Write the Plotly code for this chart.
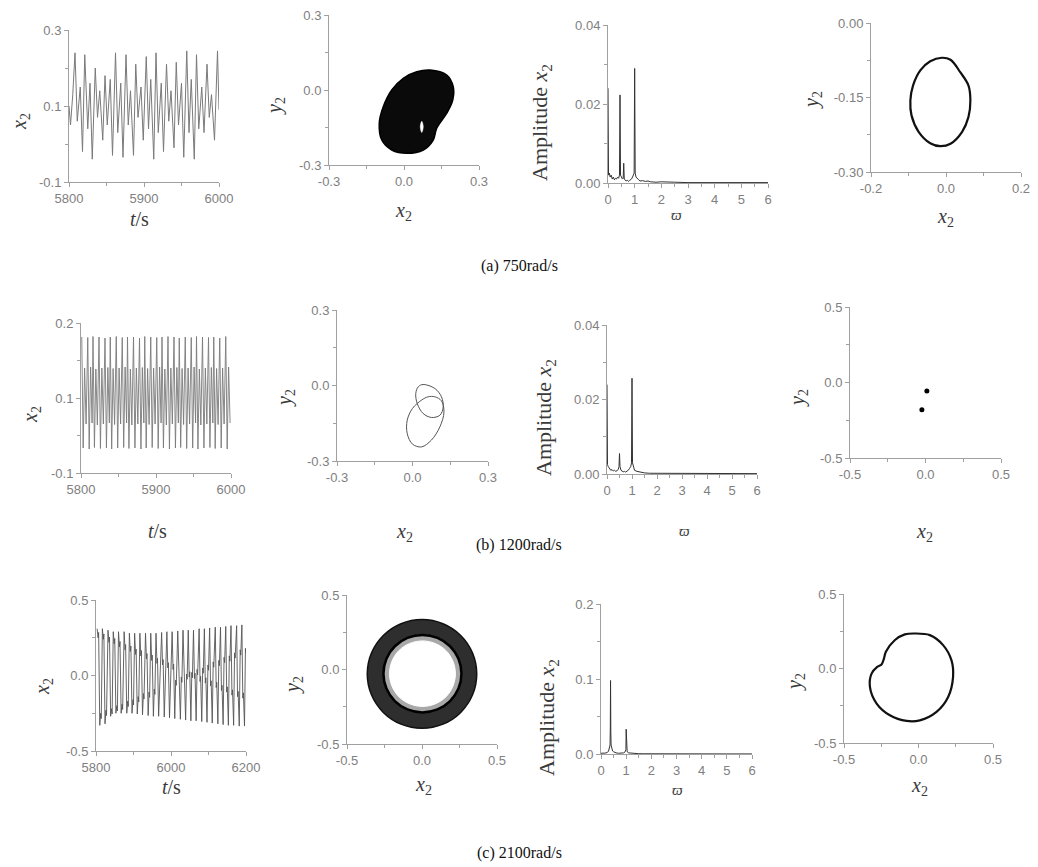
import plotly.graph_objects as go

W, H = 1038, 867
OX, OY = 0, 0  # page body margin is removed below, so pixel positions map directly

# ---------------- (a) 750 rad/s ----------------
a_t = [5800, 5802, 5805,
       5808, 5811, 5815, 5818,
       5821, 5825, 5828, 5831,
       5835, 5838, 5841, 5845,
       5848, 5851, 5855, 5858,
       5862, 5865, 5869, 5872,
       5876, 5879, 5882, 5886,
       5889, 5892, 5896, 5899,
       5903, 5906, 5909, 5913,
       5916, 5919, 5923, 5926,
       5930, 5933, 5936, 5940,
       5943, 5946, 5950, 5953,
       5957, 5960, 5963, 5967,
       5970, 5973, 5977, 5980,
       5984, 5987, 5990, 5994,
       5998, 6000]
a_x = [0.10, 0.05, 0.13,
       0.24, 0.06, 0.15, -0.02,
       0.235, 0.04, 0.16, -0.04,
       0.20, 0.07, 0.14, 0.01,
       0.18, 0.05, 0.17, -0.03,
       0.24, 0.03, 0.16, -0.035,
       0.235, 0.05, 0.14, -0.03,
       0.21, 0.07, 0.15, 0.01,
       0.23, 0.04, 0.17, -0.04,
       0.24, 0.03, 0.16, -0.02,
       0.21, 0.06, 0.14, -0.01,
       0.215, 0.05, 0.16, -0.035,
       0.245, 0.03, 0.17, -0.04,
       0.235, 0.04, 0.15, 0.03,
       0.21, 0.07, 0.13, 0.01,
       0.245, 0.09]

a_orbit_x = [0.104, 0.171, 0.197, 0.195, 0.171, 0.131, 0.117, 0.077, 0.011, -0.049,
             -0.089, -0.099, -0.083, -0.049, -0.003, 0.051, 0.104]
a_orbit_y = [0.080, 0.060, 0.013, -0.040, -0.093, -0.153, -0.200, -0.240, -0.253, -0.240,
             -0.200, -0.133, -0.067, 0.000, 0.047, 0.073, 0.080]
a_hole_x = [0.071, 0.077, 0.071, 0.065, 0.071]
a_hole_y = [-0.125, -0.147, -0.170, -0.147, -0.125]

a_w = [0.00, 0.005, 0.02, 0.05, 0.08, 0.12, 0.16, 0.20, 0.24, 0.28,
       0.32, 0.36, 0.40, 0.43, 0.45, 0.47, 0.50, 0.54, 0.57, 0.59,
       0.61, 0.64, 0.68, 0.72, 0.76, 0.80, 0.84, 0.88, 0.92, 0.96,
       0.98, 1.00, 1.02, 1.05, 1.10, 1.15, 1.20, 1.30, 1.40, 1.50,
       1.60, 1.80, 2.00, 2.20, 2.50, 3.00, 3.50, 4.00, 5.00, 6.00]
a_amp = [0.024, 0.004, 0.002, 0.0025, 0.0015, 0.002, 0.001, 0.0015, 0.0008, 0.0012,
         0.001, 0.0015, 0.0012, 0.002, 0.0223, 0.002, 0.0015, 0.001, 0.0012, 0.005,
         0.001, 0.0008, 0.0005, 0.0007, 0.0004, 0.0006, 0.0008, 0.0010, 0.0015, 0.0020,
         0.0025, 0.029, 0.0025, 0.0015, 0.0010, 0.0008, 0.0005, 0.0006, 0.0004, 0.0005,
         0.0003, 0.0002, 0.0003, 0.0002, 0.0002, 0.0001, 0.0001, 0.0001, 0.0001, 0.0001]

a_pc_x = [-0.011, 0.012, 0.038, 0.060, 0.065, 0.060, 0.043, 0.012, -0.015, -0.042,
          -0.073, -0.092, -0.095, -0.088, -0.068, -0.042, -0.011]
a_pc_y = [-0.070, -0.074, -0.099, -0.126, -0.156, -0.189, -0.219, -0.243, -0.248, -0.242,
          -0.219, -0.186, -0.156, -0.126, -0.095, -0.077, -0.070]

# ---------------- (b) 1200 rad/s ----------------
b_peak_t = [5801, 5809, 5816, 5824, 5832, 5839, 5847, 5855, 5862, 5870, 5878, 5885, 5893,
            5901, 5908, 5916, 5924, 5931, 5939, 5947, 5954, 5962, 5970, 5977, 5985, 5993]
b_peak = [0.172, 0.171, 0.173, 0.172, 0.170, 0.172, 0.173, 0.171, 0.172, 0.172, 0.170, 0.173, 0.172,
          0.171, 0.172, 0.173, 0.172, 0.170, 0.172, 0.171, 0.173, 0.172, 0.171, 0.172, 0.170, 0.173]
b_deep = [-0.050, -0.052, -0.049, -0.051, -0.050, -0.052, -0.050, -0.049, -0.051, -0.050, -0.052, -0.050, -0.049,
          -0.051, -0.050, -0.052, -0.050, -0.049, -0.051, -0.050, -0.052, -0.050, -0.049, -0.051, -0.050, -0.052]
b_mid = [0.110, 0.112, 0.108, 0.110, 0.111, 0.109, 0.110, 0.112, 0.108, 0.110, 0.111, 0.109, 0.110,
         0.112, 0.108, 0.110, 0.111, 0.109, 0.110, 0.112, 0.108, 0.110, 0.111, 0.109, 0.110, 0.112]
b_shallow = [-0.002, 0.000, -0.004, -0.002, 0.000, -0.003, -0.002, 0.000, -0.004, -0.002, 0.000, -0.003, -0.002,
             0.000, -0.004, -0.002, 0.000, -0.003, -0.002, 0.000, -0.004, -0.002, 0.000, -0.003, -0.002, 0.000]

b_loop1_x = [0.042, 0.089, 0.115, 0.122, 0.109, 0.075, 0.042, 0.019, 0.013, 0.023, 0.042]
b_loop1_y = [0.004, -0.012, -0.045, -0.085, -0.118, -0.127, -0.111, -0.072, -0.032, -0.005, 0.004]
b_loop2_x = [0.089, 0.115, 0.125, 0.109, 0.075, 0.036, 0.000, -0.021, -0.021, 0.000, 0.036, 0.062, 0.089]
b_loop2_y = [-0.045, -0.061, -0.105, -0.164, -0.217, -0.244, -0.233, -0.191, -0.138, -0.091, -0.058, -0.045, -0.045]

b_w = [0.00, 0.005, 0.02, 0.05, 0.10, 0.15, 0.20, 0.25, 0.30, 0.35,
       0.40, 0.45, 0.48, 0.50, 0.52, 0.56, 0.60, 0.65, 0.70, 0.75,
       0.80, 0.85, 0.90, 0.95, 0.98, 1.00, 1.02, 1.05, 1.10, 1.20,
       1.30, 1.40, 1.50, 1.70, 2.00, 2.50, 3.00, 4.00, 5.00, 6.00]
b_amp = [0.024, 0.003, 0.0025, 0.002, 0.0015, 0.001, 0.0012, 0.0008, 0.001, 0.0007,
         0.0009, 0.0012, 0.002, 0.0055, 0.002, 0.001, 0.0008, 0.0006, 0.0007, 0.0005,
         0.0008, 0.001, 0.0015, 0.002, 0.003, 0.0257, 0.003, 0.0018, 0.001, 0.0007,
         0.0005, 0.0004, 0.0003, 0.0002, 0.0002, 0.0001, 0.0001, 0.0001, 0.0001, 0.0001]

b_pc_x = [0.009, -0.024]
b_pc_y = [-0.056, -0.180]

# ---------------- (c) 2100 rad/s ----------------
c_peak_t = [5803, 5817, 5832, 5846, 5860, 5875, 5889, 5903, 5917, 5932, 5946, 5960, 5975, 5989,
            6003, 6018, 6032, 6046, 6060, 6075, 6089, 6103, 6118, 6132, 6146, 6160, 6175, 6189]
c_hi = [0.31, 0.31, 0.30, 0.29, 0.29, 0.29, 0.28, 0.28, 0.28, 0.28, 0.28, 0.28, 0.285, 0.29,
        0.29, 0.295, 0.30, 0.30, 0.30, 0.31, 0.31, 0.315, 0.32, 0.32, 0.325, 0.33, 0.33, 0.335]
c_d1 = [0.25, 0.24, 0.22, 0.21, 0.19, 0.17, 0.16, 0.14, 0.13, 0.11, 0.10, 0.08, 0.07, 0.05,
        0.04, 0.02, 0.01, -0.01, -0.02, -0.04, -0.05, -0.07, -0.08, -0.10, -0.11, -0.13, -0.14, -0.15]
c_d1w = [0.285, 0.275, 0.255, 0.245, 0.225, 0.205, 0.195, 0.175, 0.165, 0.145, 0.135, 0.115, 0.105, 0.085,
         0.075, 0.055, 0.045, 0.025, 0.015, -0.005, -0.015, -0.035, -0.045, -0.065, -0.075, -0.095, -0.105, -0.115]
c_lo = [-0.33, -0.32, -0.27, -0.25, -0.25, -0.25, -0.25, -0.255, -0.26, -0.265, -0.27, -0.27, -0.275, -0.28,
        -0.285, -0.29, -0.295, -0.30, -0.30, -0.305, -0.31, -0.315, -0.32, -0.325, -0.33, -0.33, -0.335, -0.335]
c_d2 = [-0.25, -0.23, -0.22, -0.20, -0.19, -0.17, -0.16, -0.14, -0.12, -0.11, -0.09, -0.08, -0.06, -0.04,
        -0.03, -0.01, 0.01, 0.02, 0.04, 0.05, 0.07, 0.09, 0.10, 0.12, 0.13, 0.15, 0.17, 0.18]
c_d2w = [-0.285, -0.265, -0.255, -0.235, -0.225, -0.205, -0.195, -0.175, -0.155, -0.145, -0.125, -0.115, -0.095, -0.075,
         -0.065, -0.045, -0.025, -0.015, 0.005, 0.015, 0.035, 0.055, 0.065, 0.085, 0.095, 0.115, 0.135, 0.145]

c_outer_x = [0.365, 0.337, 0.258, 0.140, 0.000, -0.140, -0.258, -0.337, -0.365, -0.337, -0.258, -0.140, 0.000, 0.140, 0.258, 0.337, 0.365]
c_outer_y = [-0.030, 0.110, 0.228, 0.307, 0.335, 0.307, 0.228, 0.110, -0.030, -0.170, -0.288, -0.367, -0.395, -0.367, -0.288, -0.170, -0.030]
c_inner_x = [0.263, 0.243, 0.187, 0.103, 0.003, -0.097, -0.181, -0.237, -0.257, -0.237, -0.181, -0.097, 0.003, 0.103, 0.187, 0.243, 0.263]
c_inner_y = [-0.028, 0.072, 0.156, 0.212, 0.232, 0.212, 0.156, 0.072, -0.028, -0.128, -0.212, -0.268, -0.288, -0.268, -0.212, -0.128, -0.028]
c_hole_x = [0.223, 0.206, 0.159, 0.087, 0.003, -0.081, -0.153, -0.200, -0.217, -0.200, -0.153, -0.081, 0.003, 0.087, 0.159, 0.206, 0.223]
c_hole_y = [-0.028, 0.056, 0.128, 0.175, 0.192, 0.175, 0.128, 0.056, -0.028, -0.112, -0.184, -0.231, -0.248, -0.231, -0.184, -0.112, -0.028]

c_w = [0.00, 0.05, 0.10, 0.15, 0.20, 0.25, 0.30, 0.33, 0.36, 0.37,
       0.38, 0.39, 0.40, 0.43, 0.46, 0.50, 0.55, 0.60, 0.70, 0.80,
       0.90, 0.96, 0.99, 1.00, 1.01, 1.04, 1.10, 1.20, 1.30, 1.40,
       1.50, 1.70, 2.00, 3.00, 4.00, 5.00, 6.00]
c_amp = [0.001, 0.0008, 0.001, 0.0012, 0.0015, 0.002, 0.004, 0.007, 0.012, 0.035,
         0.098, 0.03, 0.012, 0.006, 0.004, 0.003, 0.002, 0.0015, 0.001, 0.001,
         0.0015, 0.003, 0.006, 0.033, 0.006, 0.003, 0.0015, 0.001, 0.0008, 0.0005,
         0.0004, 0.0003, 0.0002, 0.0001, 0.0001, 0.0001, 0.0001]

c_pc_x = [-0.025, 0.076, 0.165, 0.221, 0.232, 0.199, 0.121, 0.009, -0.080, -0.192,
          -0.281, -0.326, -0.315, -0.277, -0.248, -0.232, -0.219, -0.158, -0.092, -0.025]
c_pc_y = [0.235, 0.224, 0.157, 0.056, -0.056, -0.191, -0.291, -0.348, -0.352, -0.314,
          -0.235, -0.123, -0.034, 0.011, 0.027, 0.067, 0.112, 0.191, 0.229, 0.235]

captions = ["(a) 750rad/s", "(b) 1200rad/s", "(c) 2100rad/s"]

# ---------- assemble the multi-extremum time series from per-cycle readings ----------
b_phase = [0.0, 1.9, 3.8, 5.8]
b_t, b_x = [], []
for t0, vals in zip(b_peak_t, zip(b_peak, b_deep, b_mid, b_shallow)):
    for off, v in zip(b_phase, vals):
        b_t.append(t0 + off)
        b_x.append(v)

c_phase = [0.0, 2.5, 4.0, 7.0, 9.5, 11.0]
c_t, c_x = [], []
for t0, vals in zip(c_peak_t, zip(c_hi, c_d1, c_d1w, c_lo, c_d2, c_d2w)):
    for off, v in zip(c_phase, vals):
        c_t.append(t0 + off)
        c_x.append(v)

# ---------------- figure ----------------
fig = go.Figure()


def ax(i):
    return ("x" if i == 1 else f"x{i}", "y" if i == 1 else f"y{i}")


def add(trace, i):
    xa, ya = ax(i)
    trace.update(xaxis=xa, yaxis=ya, showlegend=False, hoverinfo="skip")
    fig.add_trace(trace)


def fx(px):
    return (px - OX) / W


def fy(py):
    return 1 - (py - OY) / H


GRAY = "#7a7a7a"
# (a)
add(go.Scatter(x=a_t, y=a_x, mode="lines", line=dict(color=GRAY, width=1)), 1)
add(go.Scatter(x=a_orbit_x, y=a_orbit_y, mode="lines", fill="toself", fillcolor="#0a0a0a",
               line=dict(color="#000", width=1.5, shape="spline")), 2)
add(go.Scatter(x=a_hole_x, y=a_hole_y, mode="lines", fill="toself", fillcolor="#ffffff",
               line=dict(color="#ffffff", width=0.5, shape="spline")), 2)
add(go.Scatter(x=a_w, y=a_amp, mode="lines", line=dict(color="#333", width=1)), 3)
add(go.Scatter(x=a_pc_x, y=a_pc_y, mode="lines", line=dict(color="#111", width=2.2, shape="spline")), 4)
# (b)
add(go.Scatter(x=b_t, y=b_x, mode="lines", line=dict(color=GRAY, width=0.9)), 5)
add(go.Scatter(x=b_loop1_x, y=b_loop1_y, mode="lines", line=dict(color="#555", width=1, shape="spline")), 6)
add(go.Scatter(x=b_loop2_x, y=b_loop2_y, mode="lines", line=dict(color="#555", width=1, shape="spline")), 6)
add(go.Scatter(x=b_w, y=b_amp, mode="lines", line=dict(color="#333", width=1)), 7)
add(go.Scatter(x=b_pc_x, y=b_pc_y, mode="markers", marker=dict(color="#000", size=5)), 8)
# (c)
add(go.Scatter(x=c_t, y=c_x, mode="lines", line=dict(color="#555", width=0.9)), 9)
add(go.Scatter(x=c_outer_x, y=c_outer_y, mode="lines", fill="toself", fillcolor="#2e2e2e",
               line=dict(color="#111", width=1.5, shape="spline")), 10)
add(go.Scatter(x=c_inner_x, y=c_inner_y, mode="lines", fill="toself", fillcolor="#a8a8a8",
               line=dict(color="#a8a8a8", width=1, shape="spline")), 10)
add(go.Scatter(x=c_hole_x, y=c_hole_y, mode="lines", fill="toself", fillcolor="#ffffff",
               line=dict(color="#ffffff", width=1, shape="spline")), 10)
add(go.Scatter(x=c_inner_x, y=c_inner_y, mode="lines", line=dict(color="#000", width=2.5, shape="spline")), 10)
add(go.Scatter(x=c_w, y=c_amp, mode="lines", line=dict(color="#333", width=1)), 11)
add(go.Scatter(x=c_pc_x, y=c_pc_y, mode="lines", line=dict(color="#111", width=2.2, shape="spline")), 12)

# ---------------- axes ----------------
specs = {
    1: dict(px=(69, 219), py=(30, 182), xr=[5800, 6000], xt=[5800, 5900, 6000], xtt=["5800", "5900", "6000"], xm=[5850, 5950],
            yr=[-0.1, 0.3], yt=[-0.1, 0.1, 0.3], ytt=["-0.1", "0.1", "0.3"], ym=[0.0, 0.2]),
    2: dict(px=(329, 479), py=(15, 165), xr=[-0.3, 0.3], xt=[-0.3, 0, 0.3], xtt=["-0.3", "0.0", "0.3"], xm=[-0.15, 0.15],
            yr=[-0.3, 0.3], yt=[-0.3, 0, 0.3], ytt=["-0.3", "0.0", "0.3"], ym=[-0.15, 0.15]),
    3: dict(px=(608, 768), py=(25, 183), xr=[0, 6], xt=[0, 1, 2, 3, 4, 5, 6], xtt=["0", "1", "2", "3", "4", "5", "6"],
            xm=[0.5, 1.5, 2.5, 3.5, 4.5, 5.5],
            yr=[0, 0.04], yt=[0, 0.02, 0.04], ytt=["0.00", "0.02", "0.04"], ym=[0.01, 0.03]),
    4: dict(px=(871, 1021), py=(23, 172), xr=[-0.2, 0.2], xt=[-0.2, 0, 0.2], xtt=["-0.2", "0.0", "0.2"], xm=[-0.1, 0.1],
            yr=[-0.3, 0], yt=[-0.3, -0.15, 0], ytt=["-0.30", "-0.15", "0.00"], ym=[-0.225, -0.075]),
    5: dict(px=(81, 231), py=(323, 473), xr=[5800, 6000], xt=[5800, 5900, 6000], xtt=["5800", "5900", "6000"], xm=[5850, 5950],
            yr=[-0.1, 0.2], yt=[-0.1, 0.05, 0.2], ytt=["-0.1", "0.1", "0.2"], ym=[-0.025, 0.125]),
    6: dict(px=(337, 488), py=(310, 461), xr=[-0.3, 0.3], xt=[-0.3, 0, 0.3], xtt=["-0.3", "0.0", "0.3"], xm=[-0.15, 0.15],
            yr=[-0.3, 0.3], yt=[-0.3, 0, 0.3], ytt=["-0.3", "0.0", "0.3"], ym=[-0.15, 0.15]),
    7: dict(px=(607, 757), py=(325, 474), xr=[0, 6], xt=[0, 1, 2, 3, 4, 5, 6], xtt=["0", "1", "2", "3", "4", "5", "6"],
            xm=[0.5, 1.5, 2.5, 3.5, 4.5, 5.5],
            yr=[0, 0.04], yt=[0, 0.02, 0.04], ytt=["0.00", "0.02", "0.04"], ym=[0.01, 0.03]),
    8: dict(px=(850, 1001), py=(307, 458), xr=[-0.5, 0.5], xt=[-0.5, 0, 0.5], xtt=["-0.5", "0.0", "0.5"], xm=[-0.25, 0.25],
            yr=[-0.5, 0.5], yt=[-0.5, 0, 0.5], ytt=["-0.5", "0.0", "0.5"], ym=[-0.25, 0.25]),
    9: dict(px=(96, 246), py=(600, 751), xr=[5800, 6200], xt=[5800, 6000, 6200], xtt=["5800", "6000", "6200"], xm=[5900, 6100],
            yr=[-0.5, 0.5], yt=[-0.5, 0, 0.5], ytt=["-0.5", "0.0", "0.5"], ym=[-0.25, 0.25]),
    10: dict(px=(347, 497), py=(595, 744), xr=[-0.5, 0.5], xt=[-0.5, 0, 0.5], xtt=["-0.5", "0.0", "0.5"], xm=[-0.25, 0.25],
             yr=[-0.5, 0.5], yt=[-0.5, 0, 0.5], ytt=["-0.5", "0.0", "0.5"], ym=[-0.25, 0.25]),
    11: dict(px=(601, 752), py=(604, 754), xr=[0, 6], xt=[0, 1, 2, 3, 4, 5, 6], xtt=["0", "1", "2", "3", "4", "5", "6"],
             xm=[0.5, 1.5, 2.5, 3.5, 4.5, 5.5],
             yr=[0, 0.2], yt=[0, 0.1, 0.2], ytt=["0.0", "0.1", "0.2"], ym=[0.05, 0.15]),
    12: dict(px=(844, 993), py=(594, 743), xr=[-0.5, 0.5], xt=[-0.5, 0, 0.5], xtt=["-0.5", "0.0", "0.5"], xm=[-0.25, 0.25],
             yr=[-0.5, 0.5], yt=[-0.5, 0, 0.5], ytt=["-0.5", "0.0", "0.5"], ym=[-0.25, 0.25]),
}

AXC = "#a0a0a0"
TICKFONT = dict(family="Liberation Sans, Arial, sans-serif", size=13, color="#808080")
layout = {}
for i, s in specs.items():
    xa, ya = ax(i)
    common = dict(showline=True, linecolor=AXC, linewidth=1, ticks="outside", ticklen=4, tickwidth=1,
                  tickcolor=AXC, showgrid=False, zeroline=False, tickfont=TICKFONT, tickmode="array",
                  fixedrange=True, automargin=False)
    layout["xaxis" if i == 1 else f"xaxis{i}"] = dict(
        common, domain=[fx(s["px"][0]), fx(s["px"][1])], anchor=ya, range=s["xr"],
        tickvals=s["xt"], ticktext=s["xtt"],
        minor=dict(tickmode="array", tickvals=s["xm"], ticks="outside", ticklen=3, tickcolor=AXC, showgrid=False))
    layout["yaxis" if i == 1 else f"yaxis{i}"] = dict(
        common, domain=[fy(s["py"][1]), fy(s["py"][0])], anchor=xa, range=s["yr"],
        tickvals=s["yt"], ticktext=s["ytt"],
        minor=dict(tickmode="array", tickvals=s["ym"], ticks="outside", ticklen=3, tickcolor=AXC, showgrid=False))

SERIF = "Liberation Serif, Times New Roman, serif"
X2 = "<i>x</i><sub>2</sub>"
Y2 = "<i>y</i><sub>2</sub>"
AMP = "Amplitude <i>x</i><sub>2</sub>"
TS = "<i>t</i>/s"
OM = "<i>ϖ</i>"

# (text, x px, y px, angle, size)
titles = [
    (X2, 20, 122, -90, 20), (TS, 139, 219, 0, 20),
    (Y2, 275, 106, -90, 20), (X2, 403, 211, 0, 20),
    (AMP, 541, 123, -90, 22), (OM, 676, 215, 0, 15),
    (Y2, 812, 100, -90, 20), (X2, 945, 217, 0, 20),
    (X2, 32, 415, -90, 20), (TS, 157, 531, 0, 20),
    (Y2, 285, 398, -90, 20), (X2, 404, 532, 0, 20),
    (AMP, 545, 418, -90, 22), (OM, 684, 531, 0, 15),
    (Y2, 798, 398, -90, 20), (X2, 924, 532, 0, 20),
    (X2, 43, 687, -90, 20), (TS, 171, 787, 0, 20),
    (Y2, 293, 685, -90, 20), (X2, 423, 785, 0, 20),
    (AMP, 548, 718, -90, 22), (OM, 677, 790, 0, 15),
    (Y2, 795, 682, -90, 20), (X2, 919, 786, 0, 20),
]
annotations = []
for txt, x, y, ang, size in titles:
    annotations.append(dict(text=txt, x=fx(x), y=fy(y), xref="paper", yref="paper", showarrow=False,
                            xanchor="center", yanchor="middle", textangle=ang,
                            font=dict(family=SERIF, size=size, color="#3a3a3a")))
for txt, y in zip(captions, [266, 545, 853]):
    annotations.append(dict(text=txt, x=fx(519), y=fy(y), xref="paper", yref="paper", showarrow=False,
                            xanchor="center", yanchor="middle",
                            font=dict(family=SERIF, size=16, color="#111")))

fig.update_layout(**layout)
fig.update_layout(width=W, height=H, margin=dict(l=0, r=0, t=0, b=0, pad=0, autoexpand=False),
                  paper_bgcolor="white", plot_bgcolor="white", annotations=annotations, showlegend=False)

fig.write_html("out.html", config={"displayModeBar": False},
               post_script="document.body.style.margin='0';document.body.style.overflow='hidden';")
